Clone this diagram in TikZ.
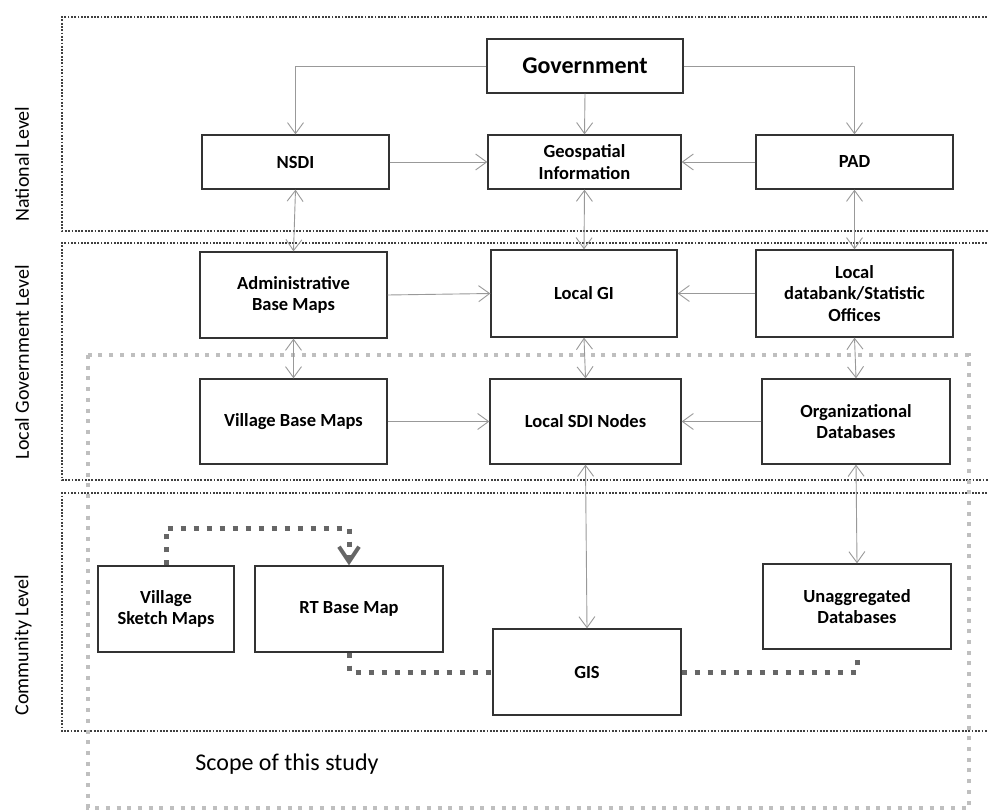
\documentclass[tikz,border=0pt]{standalone}
\usepackage{fontspec}
\setmainfont{Carlito}
\usetikzlibrary{arrows.meta}
\newcommand\nfnt{\fontsize{18.5}{21.5}\selectfont\bfseries}
\tikzset{
  vtip/.tip={Straight Barb[length=11pt,width=16pt]},
  thicktip/.tip={Straight Barb[length=15pt,width=20pt,line width=4pt]},
  box/.style={draw=black!80, line width=1.3pt, fill=white, align=center, font=\nfnt, inner sep=0pt},
  conn/.style={draw=black!40, line width=0.9pt, -vtip},
  bconn/.style={draw=black!40, line width=0.9pt, vtip-vtip},
  dashconn/.style={draw=black!60, line width=5pt, dash pattern=on 5.5pt off 7.5pt},
  levelbox/.style={draw=black!75, line width=2.2pt, dash pattern=on 1.8pt off 1.5pt},
  scopebox/.style={draw=black!25, line width=3.8pt, dash pattern=on 4pt off 6.7pt},
  levellabel/.style={rotate=90, font=\fontsize{20}{24}\selectfont, inner sep=0pt}
}
\begin{document}
\begin{tikzpicture}[x=1pt,y=-1pt]
\useasboundingbox (0,0) rectangle (988,810);
\fill[white] (0,0) rectangle (988,810);

% level boxes
\draw[levelbox] (1000,17) -| (62,231) -- (1000,231);
\draw[levelbox] (1000,243) -| (62,480) -- (1000,480);
\draw[levelbox] (1000,493) -| (62,731) -- (1000,731);
% scope box
\draw[scopebox] (88,355) rectangle (969,808);

% labels
\node[levellabel] (lnat) at (22,164) {National Level};
\node[levellabel] (lloc) at (22,362) {Local Government Level};
\node[levellabel] (lcom) at (23,645) {Community Level};
\node[font=\fontsize{24}{28}\selectfont, inner sep=0pt] (scope) at (287,764) {Scope of this study};

% nodes
\node[box, minimum width=196pt, minimum height=54pt, font=\fontsize{24}{28}\selectfont\bfseries] (gov) at (585,66) {Government};
\node[box, minimum width=187pt, minimum height=54pt] (nsdi) at (295.5,162) {NSDI};
\node[box, minimum width=193pt, minimum height=54pt] (geo) at (584.5,162) {Geospatial\\Information};
\node[box, minimum width=197pt, minimum height=54pt] (pad) at (854.5,162) {PAD};
\node[box, minimum width=187pt, minimum height=86pt] (admin) at (293.5,295) {Administrative\\Base Maps};
\node[box, minimum width=186pt, minimum height=87pt] (lgi) at (584,293.5) {Local GI};
\node[box, minimum width=197pt, minimum height=87pt] (db) at (854.5,293.5) {Local\\databank/Statistic\\Offices};
\node[box, minimum width=187pt, minimum height=85pt] (vbm) at (293.5,421.5) {Village Base Maps};
\node[box, minimum width=191pt, minimum height=85pt] (lsdi) at (585.5,421.5) {Local SDI Nodes};
\node[box, minimum width=188pt, minimum height=85pt] (org) at (856,421.5) {Organizational\\Databases};
\node[box, minimum width=136pt, minimum height=86pt] (vsm) at (166,609) {Village\\Sketch Maps};
\node[box, minimum width=188pt, minimum height=86pt] (rt) at (349,609) {RT Base Map};
\node[box, minimum width=188pt, minimum height=86pt] (gis) at (587,672) {GIS};
\node[box, minimum width=188pt, minimum height=85pt] (unagg) at (857,606.5) {Unaggregated\\Databases};

% thin connectors
\draw[conn] (gov.west) -| (nsdi.north);
\draw[conn] (gov.east) -| (pad.north);
\draw[conn] (gov.south) -- (geo.north);
\draw[conn] (nsdi.east) -- (geo.west);
\draw[conn] (pad.west) -- (geo.east);
\draw[bconn] (nsdi.south) -- (admin.north);
\draw[bconn] (geo.south) -- (lgi.north);
\draw[bconn] (pad.south) -- (db.north);
\draw[conn] (admin.east) -- (lgi.west);
\draw[conn] (db.west) -- (lgi.east);
\draw[bconn] (admin.south) -- (vbm.north);
\draw[bconn] (lgi.south) -- (lsdi.north);
\draw[bconn] (db.south) -- (org.north);
\draw[conn] (vbm.east) -- (lsdi.west);
\draw[conn] (org.west) -- (lsdi.east);
\draw[bconn] (lsdi.south) -- (gis.north);
\draw[bconn] (org.south) -- (unagg.north);

% thick dashed connectors
\coordinate (c1) at (349,528);
\coordinate (ue) at ([yshift=-9pt]unagg.south);
\draw[dashconn, -thicktip] (vsm.north) |- (c1) -- (rt.north);
\draw[dashconn] (rt.south) |- (gis.west);
\draw[dashconn] (gis.east) -| (ue);
\end{tikzpicture}
\end{document}
